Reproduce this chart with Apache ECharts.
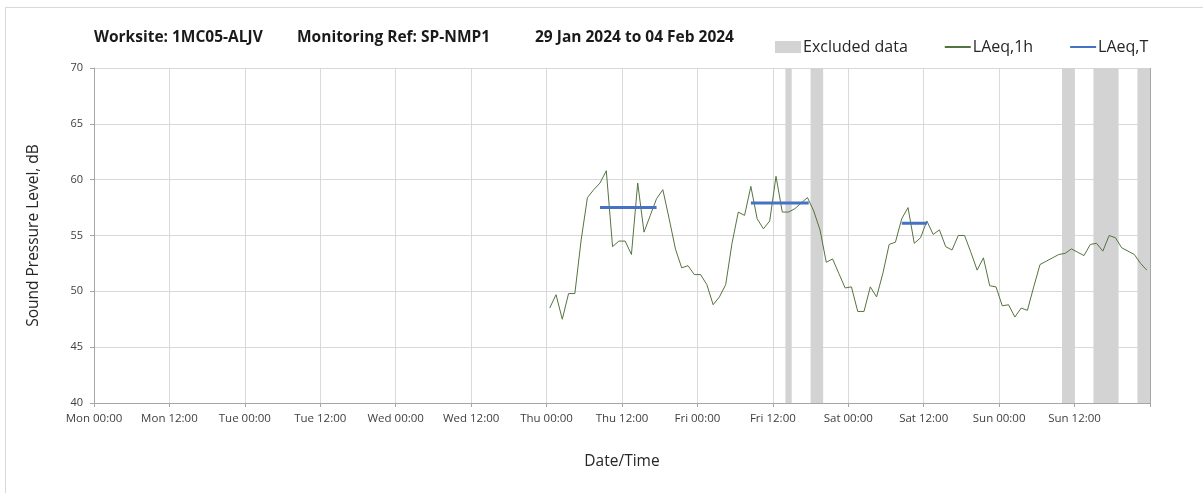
<!DOCTYPE html>
<html>
<head>
<meta charset="utf-8">
<script src="https://cdn.jsdelivr.net/npm/echarts@6/dist/echarts.min.js"></script>
<style>
html,body{margin:0;padding:0;background:#fff;}
#frame{position:absolute;left:5px;top:7px;width:1210px;height:500px;border:1px solid #d9d9d9;box-sizing:border-box;}
#chart{position:absolute;left:0;top:0;width:1203px;height:493px;}
</style>
</head>
<body>
<div id="frame"></div>
<div id="chart"></div>
<script>
// Tick labels every 12 hours from Mon 00:00 (hour 0) to Mon 00:00 next week (hour 168)
const tickLabels = ['Mon 00:00','Mon 12:00','Tue 00:00','Tue 12:00','Wed 00:00','Wed 12:00',
  'Thu 00:00','Thu 12:00','Fri 00:00','Fri 12:00','Sat 00:00','Sat 12:00','Sun 00:00','Sun 12:00',''];

// Title pieces
const titleParts = ['Worksite: 1MC05-ALJV', 'Monitoring Ref: SP-NMP1', '29 Jan 2024 to 04 Feb 2024'];

// Hourly LAeq,1h values (dB), first sample at hour 72.5 (Thu 00:30), one per hour
const firstHour = 72.5;
const laeq1h = [
  48.5, 49.7, 47.5, 49.8, 49.8, 54.6, 58.4, 59.1, 59.7, 60.8,
  54.0, 54.5, 54.5, 53.3, 59.7, 55.3, 56.8, 58.3, 59.1, 56.5,
  53.8, 52.1, 52.3, 51.5, 51.5, 50.6, 48.8, 49.5, 50.6, 54.3,
  57.1, 56.8, 59.4, 56.5, 55.6, 56.3, 60.3, 57.1, 57.1, 57.4,
  57.9, 58.4, 57.2, 55.5, 52.6, 52.9, 51.6, 50.3, 50.4, 48.2,
  48.2, 50.4, 49.5, 51.6, 54.2, 54.4, 56.5, 57.5, 54.3, 54.8,
  56.3, 55.1, 55.5, 54.0, 53.7, 55.0, 55.0, 53.5, 51.9, 53.0,
  50.5, 50.4, 48.7, 48.8, 47.7, 48.5, 48.3, 50.4, 52.4, 52.7,
  53.0, 53.3, 53.4, 53.8, 53.5, 53.2, 54.2, 54.3, 53.6, 55.0,
  54.8, 53.9, 53.6, 53.3, 52.5, 51.9
];

// LAeq,T periods: [start hour, end hour, level dB]
const laeqTStart = [80.5, 104.5, 128.5];
const laeqTEnd   = [89.5, 113.7, 132.5];
const laeqTValue = [57.5, 57.9, 56.1];

// Excluded data periods: start / end hour
const exclStart = [110, 114, 154, 159, 166];
const exclEnd   = [111, 116, 156, 163, 168];

const lineData = laeq1h.map((v, i) => [firstHour + i, v]);
const tData = [];
laeqTStart.forEach((s, i) => {
  if (i > 0) tData.push([s - 0.01, null]);
  tData.push([s, laeqTValue[i]]);
  tData.push([laeqTEnd[i], laeqTValue[i]]);
});
const exclAreas = exclStart.map((s, i) => [{xAxis: s}, {xAxis: exclEnd[i]}]);

const FONT = '"Open Sans", "Noto Sans", sans-serif';
const titleLefts = [94, 297, 535];
const titleStyle = {fontFamily: FONT, fontSize: 15.5, fontWeight: 'bold', color: '#1a1a1a'};
const chart = echarts.init(document.getElementById('chart'), null, {renderer: 'canvas'});
chart.setOption({
  animation: false,
  backgroundColor: 'transparent',
  textStyle: {fontFamily: FONT},
  title: titleParts.map((t, i) => ({text: t, left: titleLefts[i], top: 30, padding: 0, textStyle: titleStyle})),
  legend: {
    left: 770, top: 34,
    itemGap: 36,
    itemWidth: 26, itemHeight: 12,
    textStyle: {fontFamily: FONT, fontSize: 16, color: '#262626', padding: [0, 0, 0, -3]},
    data: [
      {name: 'Excluded data', icon: 'rect', itemStyle: {color: '#d3d3d3'}},
      {name: 'LAeq,1h', itemStyle: {opacity: 0}},
      {name: 'LAeq,T', itemStyle: {opacity: 0}}
    ]
  },
  grid: {left: 94, right: 53, top: 68, bottom: 90, containLabel: false},
  xAxis: {
    type: 'value', min: 0, max: 168, interval: 12,
    name: 'Date/Time', nameLocation: 'middle', nameGap: 51,
    nameTextStyle: {fontFamily: FONT, fontSize: 15.5, color: '#262626'},
    axisLine: {show: true, lineStyle: {color: '#a6a6a6', width: 1}},
    axisTick: {show: true, length: 4, lineStyle: {color: '#a6a6a6'}},
    axisLabel: {
      fontFamily: FONT, fontSize: 11.5, color: '#404040', margin: 10, showMaxLabel: true,
      formatter: v => tickLabels[Math.round(v / 12)] || ''
    },
    splitLine: {show: true, lineStyle: {color: '#d9d9d9', width: 1}}
  },
  yAxis: {
    type: 'value', min: 40, max: 70, interval: 5,
    name: 'Sound Pressure Level, dB', nameLocation: 'middle', nameGap: 52,
    nameTextStyle: {fontFamily: FONT, fontSize: 15.5, color: '#262626'},
    axisLine: {show: true, lineStyle: {color: '#a6a6a6', width: 1}},
    axisTick: {show: true, length: 4, lineStyle: {color: '#a6a6a6'}},
    axisLabel: {fontFamily: FONT, fontSize: 11, color: '#404040', margin: 11},
    splitLine: {show: true, lineStyle: {color: '#d9d9d9', width: 1}}
  },
  series: [
    {
      name: 'Excluded data', type: 'line', data: [],
      itemStyle: {color: '#d3d3d3'},
      markArea: {silent: true, itemStyle: {color: '#d3d3d3'}, data: exclAreas}
    },
    {
      name: 'LAeq,1h', type: 'line', data: lineData,
      symbol: 'none', showSymbol: false,
      lineStyle: {color: '#55733f', width: 1},
      itemStyle: {color: '#55733f'},
      z: 3
    },
    {
      name: 'LAeq,T', type: 'line', data: tData, connectNulls: false,
      symbol: 'none', showSymbol: false,
      lineStyle: {color: '#4472c4', width: 3},
      itemStyle: {color: '#4472c4'},
      z: 4
    },
    {
      // right border of plot area
      type: 'line', data: [], silent: true,
      markLine: {silent: true, symbol: 'none', label: {show: false},
        lineStyle: {color: '#a6a6a6', type: 'solid', width: 1},
        data: [{xAxis: 168}]}
    }
  ]
});
</script>
</body>
</html>
